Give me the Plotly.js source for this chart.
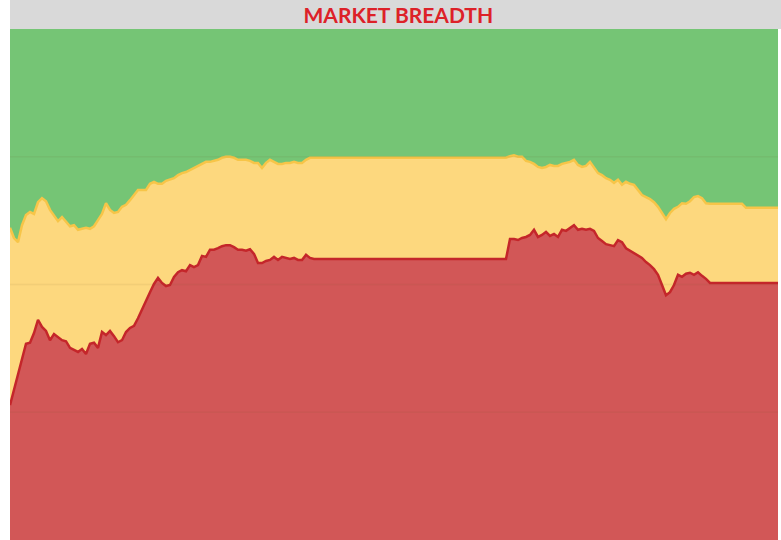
<!DOCTYPE html>
<html>
<head>
<meta charset="utf-8">
<script src="https://cdn.plot.ly/plotly-3.0.1.min.js"></script>
<style>html,body{margin:0;padding:0;background:#fff;}#chart{width:781px;height:540px;}</style>
</head>
<body>
<div id="chart"></div>
<script>
// Cumulative boundaries (% of stocks), sampled evenly over time
const redLevel = [
26.4,29.5,32.3,35.2,38.4,38.6,40.5,43.1,41.7,40.9,39.1,40.3,39.7,39.1,38.9,37.6,37.2,36.8,37.4,36.4,
38.4,38.6,37.6,40.7,40.1,40.9,39.9,38.7,39.1,40.7,41.5,41.9,43.4,45.2,46.8,48.5,50.1,51.3,50.3,49.7,
49.9,51.5,52.4,52.8,52.6,53.8,53.4,53.8,55.6,55.4,56.8,56.8,57.1,57.5,57.7,57.7,57.3,56.8,56.8,56.6,
56.9,56.0,54.2,54.2,54.6,54.8,55.4,54.8,55.4,55.2,55.0,55.2,54.8,54.8,55.8,55.2,
55.0,55.0,55.0,55.0,55.0,55.0,55.0,55.0,55.0,55.0,55.0,55.0,55.0,55.0,55.0,55.0,55.0,55.0,55.0,55.0,
55.0,55.0,55.0,55.0,55.0,55.0,55.0,55.0,55.0,55.0,55.0,55.0,55.0,55.0,55.0,55.0,55.0,55.0,55.0,55.0,
55.0,55.0,55.0,55.0,55.0,55.0,55.0,55.0,55.0,
58.9,58.9,58.7,59.1,59.3,59.7,60.7,59.3,59.7,60.3,59.5,59.9,59.3,60.7,60.5,61.1,61.6,60.7,60.9,60.7,
60.9,60.5,59.1,58.5,57.9,57.7,57.5,58.7,58.3,57.1,56.6,56.2,55.6,55.2,54.4,53.8,53.0,51.9,49.9,47.9,
48.5,49.9,51.9,51.5,52.1,52.3,51.9,52.4,51.7,51.1,
50.3,50.3,50.3,50.3,50.3,50.3,50.3,50.3,50.3,50.3,50.3,50.3,50.3,50.3,50.3,50.3,50.3,50.3
];
const yellowLevel = [
61.1,59.1,58.3,61.6,63.6,64.2,63.8,66.1,66.9,66.3,64.6,63.4,62.4,63.2,62.2,61.4,61.6,60.7,60.9,61.1,
60.9,61.4,62.6,63.8,65.9,64.6,64.0,64.2,65.2,65.6,66.5,67.5,68.5,68.5,68.5,69.7,70.1,69.7,69.7,70.3,
70.5,70.8,71.4,71.8,72.0,72.4,72.8,73.2,73.6,74.0,74.0,74.2,74.4,74.8,75.0,75.0,74.8,74.4,74.4,74.4,
74.2,73.8,73.8,72.8,73.8,74.4,74.0,73.6,73.6,73.8,73.8,74.0,73.8,73.8,74.4,
74.8,74.8,74.8,74.8,74.8,74.8,74.8,74.8,74.8,74.8,74.8,74.8,74.8,74.8,74.8,74.8,74.8,74.8,74.8,74.8,
74.8,74.8,74.8,74.8,74.8,74.8,74.8,74.8,74.8,74.8,74.8,74.8,74.8,74.8,74.8,74.8,74.8,74.8,74.8,74.8,
74.8,74.8,74.8,74.8,74.8,74.8,74.8,74.8,74.8,74.8,
75.1,75.3,75.0,75.0,74.2,74.0,73.6,73.0,72.8,73.0,73.4,73.2,73.2,73.6,73.8,74.0,74.4,73.4,73.0,73.2,
74.0,72.8,71.8,71.4,70.8,70.5,69.9,70.5,69.5,70.1,69.7,69.5,68.5,67.5,67.1,66.7,66.1,65.2,64.0,62.8,
64.0,64.8,65.2,65.9,65.8,66.3,67.1,67.3,66.9,65.9,
65.8,65.8,65.8,65.8,65.8,65.8,65.8,65.8,65.8,
65.0,65.0,65.0,65.0,65.0,65.0,65.0,65.0,65.0
];
const titleText = "MARKET BREADTH";
const gridValues = [25, 50, 75];

const nPts = Math.min(redLevel.length, yellowLevel.length);
const xIdx = Array.from({length: nPts}, (_, i) => i);
const fullLevel = xIdx.map(() => 100);

const traces = [
  {x: xIdx, y: redLevel.slice(0, nPts), type: 'scatter', mode: 'lines', fill: 'tozeroy',
   fillcolor: 'rgba(209,82,82,0.97)', line: {color: '#c4262a', width: 2.5}, hoverinfo: 'skip'},
  {x: xIdx, y: yellowLevel.slice(0, nPts), type: 'scatter', mode: 'lines', fill: 'tonexty',
   fillcolor: 'rgba(253,215,122,0.97)', line: {color: '#f7c548', width: 2.5}, hoverinfo: 'skip'},
  {x: xIdx, y: fullLevel, type: 'scatter', mode: 'lines', fill: 'tonexty',
   fillcolor: 'rgba(114,196,114,0.98)', line: {color: 'rgba(0,0,0,0)', width: 0}, hoverinfo: 'skip'}
];

const shapes = [
  {type: 'rect', xref: 'paper', yref: 'paper', x0: 0, x1: 1.004, y0: 1, y1: 1 + 29/511,
   fillcolor: '#d9d9d9', line: {width: 0}, layer: 'below'}
];
gridValues.forEach(v => shapes.push({type: 'line', xref: 'paper', yref: 'y', x0: 0, x1: 1, y0: v, y1: v,
  line: {color: 'rgba(120,90,40,0.08)', width: 1.5}, layer: 'above'}));

const layout = {
  width: 781, height: 540,
  margin: {l: 10, r: 3, t: 29, b: 0, pad: 0},
  paper_bgcolor: '#ffffff', plot_bgcolor: '#ffffff',
  showlegend: false,
  title: {text: '<b>' + titleText + '</b>', x: 0.51, xanchor: 'center', y: 1 - 16/540, yanchor: 'middle', yref: 'container',
          font: {family: 'Lato, "Open Sans", sans-serif', size: 21, color: '#dd2128'}},
  xaxis: {range: [0, nPts - 1], showgrid: false, zeroline: false, showticklabels: false, ticks: '', showline: false, fixedrange: true},
  yaxis: {range: [0, 100], showgrid: false, zeroline: false, showticklabels: false, ticks: '', showline: false, fixedrange: true},
  shapes: shapes,
  hovermode: false
};

Plotly.newPlot('chart', traces, layout, {displayModeBar: false, staticPlot: true});
</script>
</body>
</html>
